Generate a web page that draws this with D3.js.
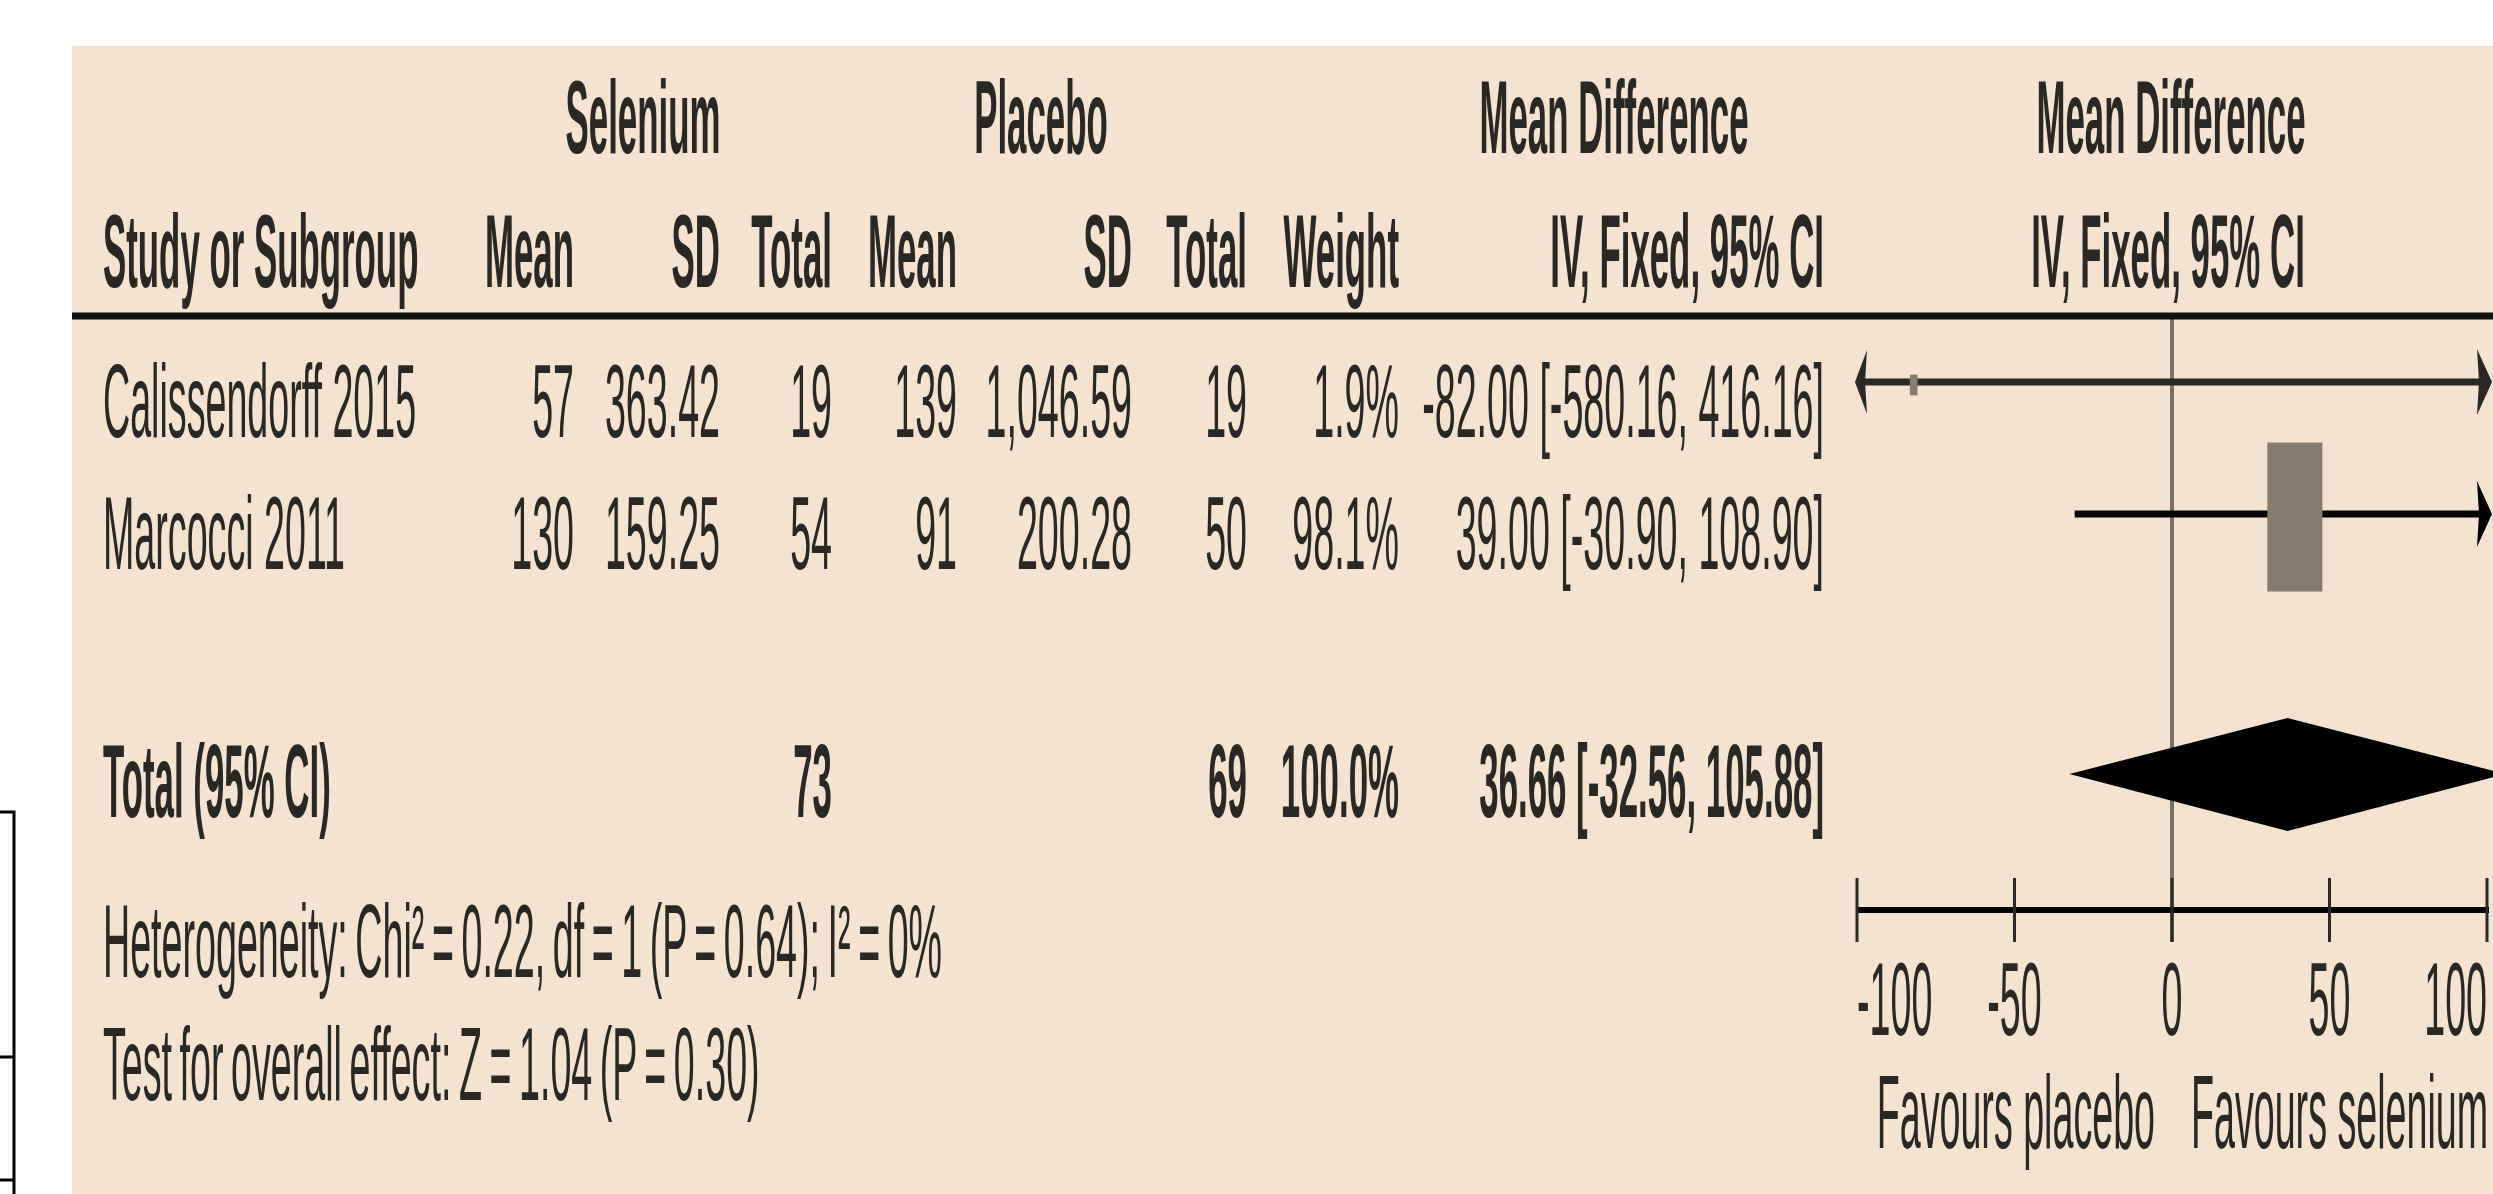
<!DOCTYPE html>
<html>
<head>
<meta charset="utf-8">
<script src="https://cdn.jsdelivr.net/npm/d3@7"></script>
<style>
  body { margin: 0; background: #fff; overflow: hidden; }
  svg { display: block; }
</style>
</head>
<body>
<div id="chart"></div>
<script>
// dados
const studies = ["Calissendorff 2015", "Marcocci 2011"];
const selMean = [57, 130];
const selSD = [363.42, 159.25];
const selTotal = [19, 54];
const plcMean = [139, 91];
const plcSD = [1046.59, 200.28];
const plcTotal = [19, 50];
const weights = [1.9, 98.1];
const md = [-82.00, 39.00];
const ciLow = [-580.16, -30.90];
const ciHigh = [416.16, 108.90];

const totalSel = 73, totalPlc = 69, totalWeight = 100.0;
const totalMd = 36.66, totalLow = -32.56, totalHigh = 105.88;

const axisTicks = [-100, -50, 0, 50, 100];
const heteroText = "Heterogeneity: Chi\u00B2 = 0.22, df = 1 (P = 0.64); I\u00B2 = 0%";
const overallText = "Test for overall effect: Z = 1.04 (P = 0.30)";
const favLeft = "Favours placebo", favRight = "Favours selenium";

const width = 2493, height = 1194;
const FS = 104, SX = 0.362, SXB = 0.335;
const ink = "#2a2824";

const svg = d3.select("#chart").append("svg")
    .attr("width", width)
    .attr("height", height);

// pequeno quadro cortado à esquerda
svg.append("path")
    .attr("d", "M0,812 H14 V1194 M0,1057 H14 M0,1180 H14")
    .attr("fill", "none").attr("stroke", "#000").attr("stroke-width", 3);

// painel bege
svg.append("rect")
    .attr("x", 72).attr("y", 46)
    .attr("width", width - 72).attr("height", height - 46)
    .attr("fill", "#f4e3d0");

function label(x, y, txt, anchor, bold, wordSpacing) {
    svg.append("text")
        .attr("transform", `translate(${x},${y}) scale(${bold ? SXB : SX},1)`)
        .attr("text-anchor", anchor || "start")
        .attr("font-family", "Liberation Sans, Arial, sans-serif")
        .attr("font-size", FS)
        .attr("font-weight", bold ? "bold" : "normal")
        .attr("word-spacing", wordSpacing || 0)
        .attr("fill", ink)
        .text(txt);
}

// colunas (borda direita)
const col = {
    study: 103, selMean: 574, selSD: 720, selTotal: 832,
    plcMean: 957, plcSD: 1132, plcTotal: 1247, weight: 1399, ci: 1824
};

// hífen simples no lugar do sinal de menos
const loc = d3.formatLocale({ decimal: ".", thousands: ",", grouping: [3], currency: ["", ""], minus: "-" });
const fmtSD = loc.format(",.2f");
const fmt2 = loc.format(".2f");
const fmtW = loc.format(".1f");

// Cabeçalho
label(643, 153, "Selenium", "middle", true);
label(1041, 153, "Placebo", "middle", true);
label(1614, 153, "Mean Difference", "middle", true);
label(2171, 153, "Mean Difference", "middle", true);

label(col.study, 287, "Study or Subgroup", "start", true);
label(col.selMean, 287, "Mean", "end", true);
label(col.selSD, 287, "SD", "end", true);
label(col.selTotal, 287, "Total", "end", true);
label(col.plcMean, 287, "Mean", "end", true);
label(col.plcSD, 287, "SD", "end", true);
label(col.plcTotal, 287, "Total", "end", true);
label(col.weight, 287, "Weight", "end", true);
label(col.ci, 287, "IV, Fixed, 95% CI", "end", true);
label(2168, 287, "IV, Fixed, 95% CI", "middle", true);

// escala do forest plot
const x = d3.scaleLinear().domain([-100, 100]).range([1857, 2487]);
const rowY = d3.scaleLinear().domain([0, 1]).range([382, 514]);
const sqW = d3.scaleSqrt().domain([0, 98.1]).range([0, 55]);
const sqH = d3.scaleSqrt().domain([0, 98.1]).range([0, 149]);
const axisY = 910;

// linha vertical do zero
svg.append("line")
    .attr("x1", x(0)).attr("x2", x(0))
    .attr("y1", 316).attr("y2", axisY + 32)
    .attr("stroke", "#7a7064").attr("stroke-width", 4);

// linha do cabeçalho
svg.append("line")
    .attr("x1", 72).attr("x2", width)
    .attr("y1", 316).attr("y2", 316)
    .attr("stroke", "#111").attr("stroke-width", 7);

// Linhas dos estudos
const [xMin, xMax] = x.domain();
studies.forEach((s, i) => {
    const ty = rowY(i) + 55;
    label(col.study, ty, s, "start", false);
    label(col.selMean, ty, selMean[i], "end", false);
    label(col.selSD, ty, fmtSD(selSD[i]), "end", false);
    label(col.selTotal, ty, selTotal[i], "end", false);
    label(col.plcMean, ty, plcMean[i], "end", false);
    label(col.plcSD, ty, fmtSD(plcSD[i]), "end", false);
    label(col.plcTotal, ty, plcTotal[i], "end", false);
    label(col.weight, ty, fmtW(weights[i]) + "%", "end", false);
    label(col.ci, ty, `${fmt2(md[i])} [${fmt2(ciLow[i])}, ${fmt2(ciHigh[i])}]`, "end", false);

    const y = rowY(i);
    const lo = Math.max(ciLow[i], xMin), hi = Math.min(ciHigh[i], xMax);
    const stroke = i === 0 ? "#2b2926" : "#000";
    svg.append("line")
        .attr("x1", x(lo)).attr("x2", x(hi))
        .attr("y1", y).attr("y2", y)
        .attr("stroke", stroke).attr("stroke-width", 7);

    // setas quando o IC sai da escala
    if (ciLow[i] < xMin) {
        svg.append("path")
            .attr("d", `M${x(xMin) - 2},${y} L${x(xMin) + 10},${y - 32} L${x(xMin) + 8},${y} L${x(xMin) + 10},${y + 32} Z`)
            .attr("fill", stroke);
    }
    if (ciHigh[i] > xMax) {
        svg.append("path")
            .attr("d", `M${x(xMax) + 5},${y} L${x(xMax) - 10},${y - 33} L${x(xMax) - 8},${y} L${x(xMax) - 10},${y + 33} Z`)
            .attr("fill", stroke);
    }

    const w = sqW(weights[i]), h = sqH(weights[i]);
    svg.append("rect")
        .attr("x", x(md[i]) - w / 2).attr("y", y - h / 2 + 3)
        .attr("width", w).attr("height", h)
        .attr("fill", "#857b6e");
});

// Total
label(col.study, 817, "Total (95% CI)", "start", true);
label(col.selTotal, 817, totalSel, "end", true);
label(col.plcTotal, 817, totalPlc, "end", true);
label(col.weight, 817, fmtW(totalWeight) + "%", "end", true);
label(col.ci, 817, `${fmt2(totalMd)} [${fmt2(totalLow)}, ${fmt2(totalHigh)}]`, "end", true);

const dY = 774;
svg.append("path")
    .attr("d", `M${x(totalLow)},${dY} L${x(totalMd)},${dY - 56} L${x(totalHigh)},${dY} L${x(totalMd)},${dY + 57} Z`)
    .attr("fill", "#000");

label(col.study, 977, heteroText, "start", false, -8);
label(col.study, 1100, overallText, "start", false, -8);

// eixo
svg.append("line")
    .attr("x1", x(xMin)).attr("x2", x(xMax) + 2)
    .attr("y1", axisY).attr("y2", axisY)
    .attr("stroke", "#000").attr("stroke-width", 6);

svg.selectAll(".tick-mark")
    .data(axisTicks)
    .enter().append("line")
    .attr("class", "tick-mark")
    .attr("x1", d => x(d)).attr("x2", d => x(d))
    .attr("y1", axisY - 32).attr("y2", axisY + 32)
    .attr("stroke", "#2b2926").attr("stroke-width", 3);

axisTicks.forEach((t, i) => {
    const anchor = i === 0 ? "start" : (i === axisTicks.length - 1 ? "end" : "middle");
    label(x(t), 1035, String(t), anchor, false);
});

label(x(0) - 17, 1148, favLeft, "end", false);
label(x(0) + 19, 1148, favRight, "start", false);
</script>
</body>
</html>
